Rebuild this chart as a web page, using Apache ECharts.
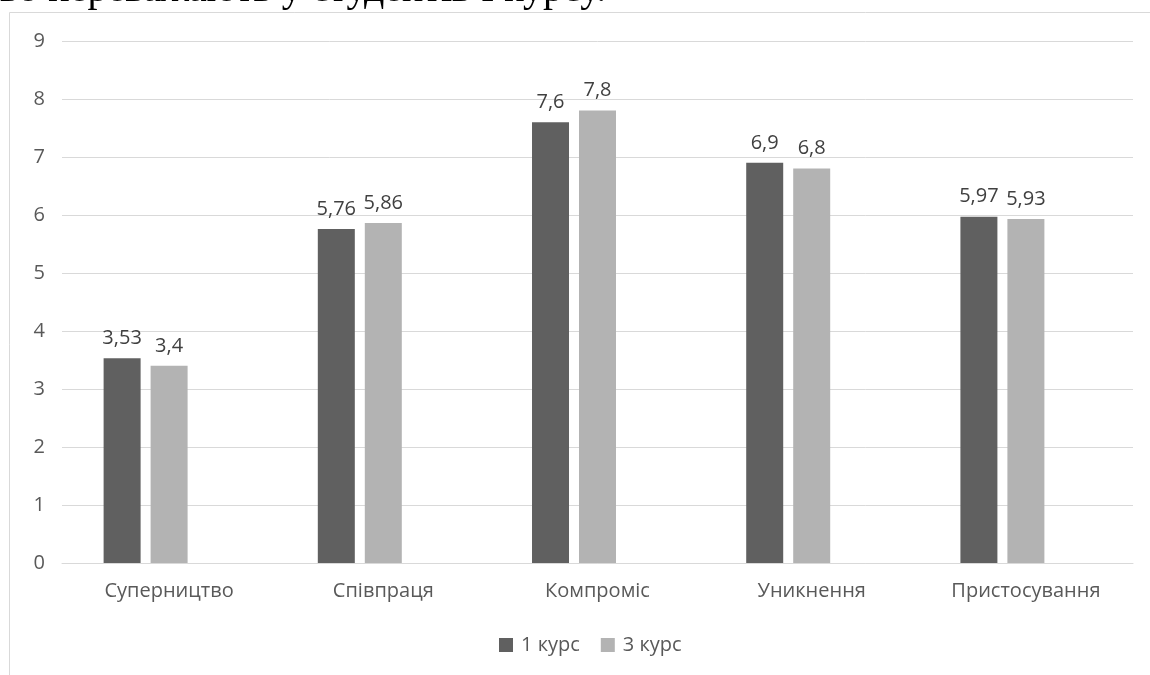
<!DOCTYPE html>
<html>
<head>
<meta charset="utf-8">
<script src="https://cdn.jsdelivr.net/npm/echarts@6/dist/echarts.min.js"></script>
<style>
html,body{margin:0;padding:0;background:#fff;}
#c{width:1150px;height:675px;}
</style>
</head>
<body>
<div id="c"></div>
<script>
const categories = ['Суперництво', 'Співпраця', 'Компроміс', 'Уникнення', 'Пристосування'];
const course1 = [3.53, 5.76, 7.6, 6.9, 5.97];
const course3 = [3.4, 5.86, 7.8, 6.8, 5.93];
const emptySeries = [null, null, null, null, null];
const seriesNames = ['1 курс', '3 курс'];
const headerText = 'ьо переважають у студентів I курсу.';

const chart = echarts.init(document.getElementById('c'));
const fmt = p => String(p.value).replace('.', ',');
const font = 'Open Sans';
const fs = 20;
chart.setOption({
  animation: false,
  backgroundColor: '#fff',
  graphic: [
    { type: 'rect', shape: { x: 9.5, y: 12.5, width: 1300, height: 800 },
      style: { fill: 'none', stroke: '#d9d9d9', lineWidth: 1 }, z: 0 },
    { type: 'text', left: 0, top: -30,
      style: { text: headerText, font: '40px "Liberation Serif"', fill: '#000' }, z: 10 }
  ],
  grid: { left: 62, right: 17, top: 41, bottom: 112, containLabel: false },
  legend: {
    bottom: 15, left: 494,
    itemWidth: 14, itemHeight: 14, itemGap: 21,
    icon: 'rect',
    textStyle: { color: '#595959', fontSize: fs, fontFamily: font, padding: [0, 0, 0, 3] },
    data: seriesNames
  },
  xAxis: {
    type: 'category', data: categories,
    axisLine: { lineStyle: { color: '#d9d9d9', width: 1 } },
    axisTick: { show: false },
    axisLabel: { color: '#595959', fontSize: fs, fontFamily: font, margin: 18 }
  },
  yAxis: {
    type: 'value', min: 0, max: 9, interval: 1,
    axisLine: { show: false }, axisTick: { show: false },
    splitLine: { lineStyle: { color: '#d9d9d9', width: 1 } },
    axisLabel: { color: '#595959', fontSize: fs, fontFamily: font, margin: 17 }
  },
  series: [
    { name: seriesNames[0], type: 'bar', data: course1, barWidth: 37, barGap: '27%',
      itemStyle: { color: '#606060' },
      label: { show: true, position: 'top', formatter: fmt, color: '#404040', fontSize: fs, fontFamily: font, distance: 10 } },
    { name: seriesNames[1], type: 'bar', data: course3, barWidth: 37,
      itemStyle: { color: '#b3b3b3' },
      label: { show: true, position: 'top', formatter: fmt, color: '#404040', fontSize: fs, fontFamily: font, distance: 10 } },
    { name: 'empty', type: 'bar', data: emptySeries, barWidth: 37,
      itemStyle: { color: 'transparent' }, silent: true }
  ]
});
</script>
</body>
</html>
